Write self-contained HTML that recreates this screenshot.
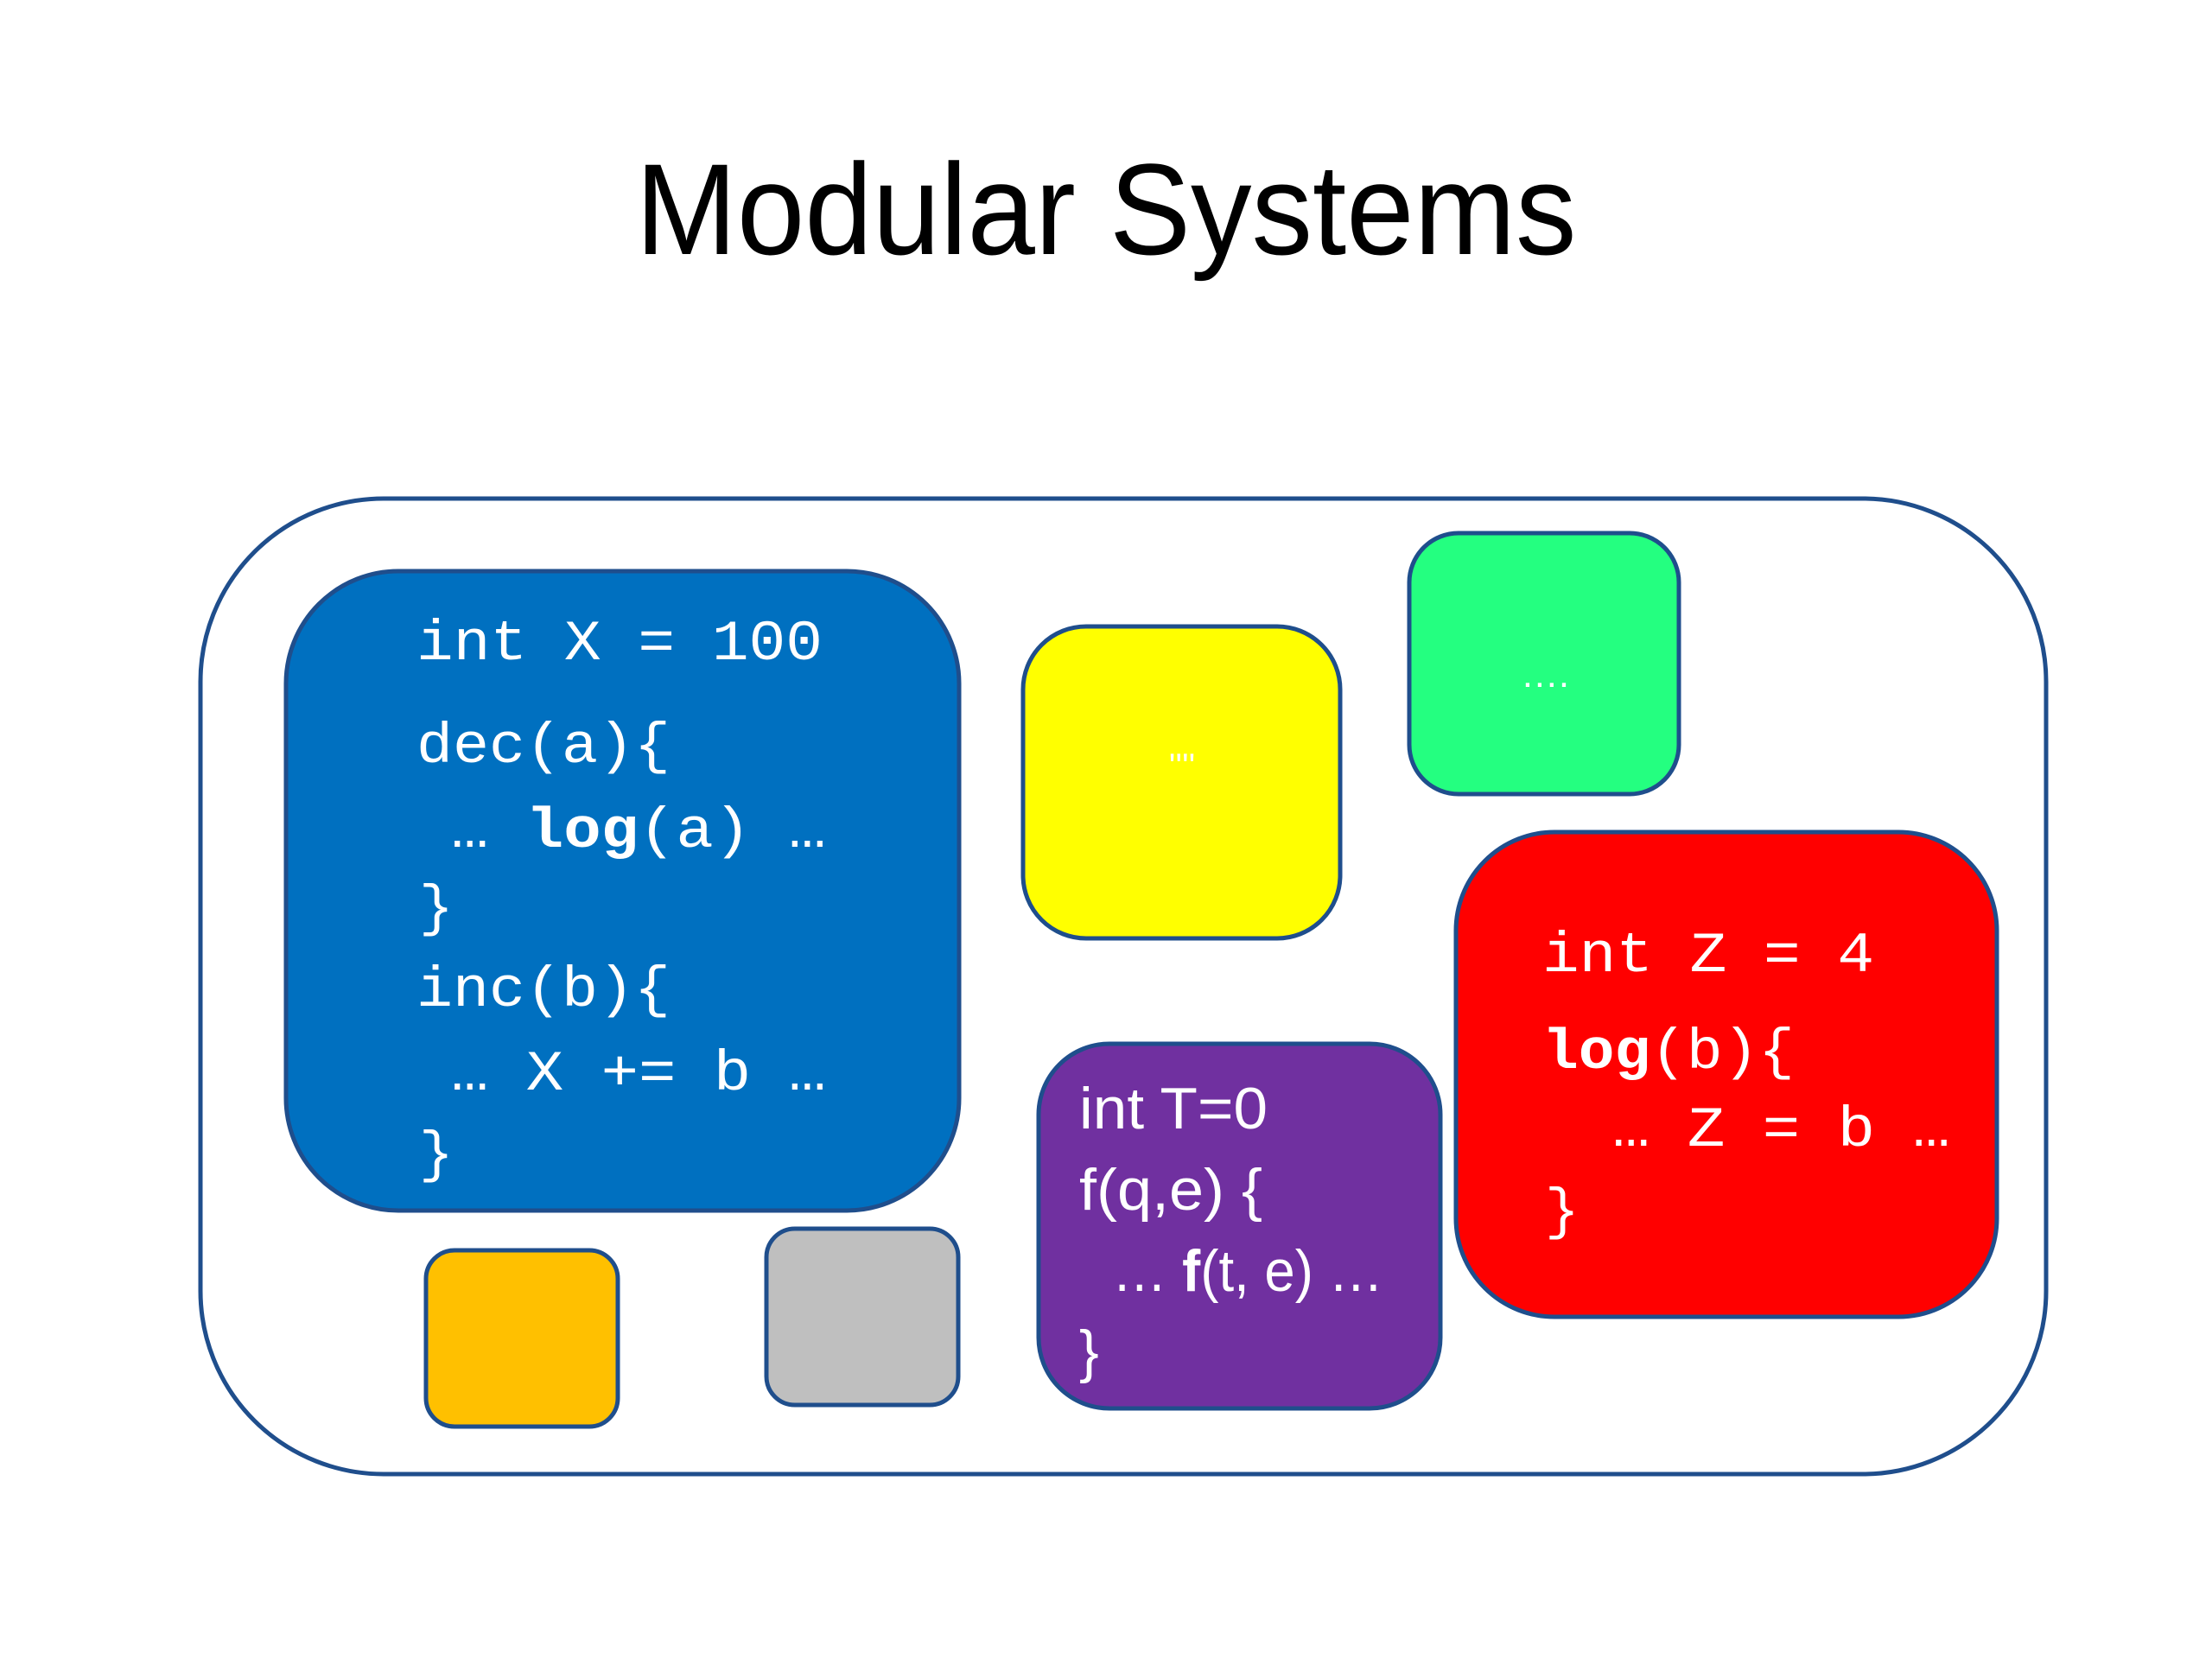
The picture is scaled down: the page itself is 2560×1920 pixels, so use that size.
<!DOCTYPE html>
<html><head><meta charset="utf-8"><style>html,body{margin:0;padding:0;background:#fff}svg{display:block}</style></head>
<body>
<svg width="2560" height="1920" viewBox="0 0 2560 1920" xmlns="http://www.w3.org/2000/svg">
<rect width="2560" height="1920" fill="#fff"/>
<text x="1280" y="294" text-anchor="middle" font-family="Liberation Sans, sans-serif" font-size="150" fill="#000" textLength="1089" lengthAdjust="spacingAndGlyphs">Modular Systems</text>
<rect x="232" y="577" width="2136" height="1129" rx="212" ry="212" fill="#fff" stroke="#1F4E8C" stroke-width="5"/>
<g stroke="#1F4E8C" stroke-width="5">
<rect x="331" y="661" width="779" height="740" rx="130" fill="#0070C0"/>
<rect x="1184" y="725" width="367" height="361" rx="73" fill="#FFFF00"/>
<rect x="1631" y="617" width="312" height="302" rx="57" fill="#24FF80"/>
<rect x="1685" y="963" width="626" height="561" rx="114" fill="#FF0000"/>
<rect x="1202" y="1208" width="465" height="422" rx="82" fill="#7030A0"/>
<rect x="493" y="1447" width="222" height="204" rx="33" fill="#FFC000"/>
<rect x="887" y="1422" width="222" height="204" rx="33" fill="#BFBFBF"/>
</g>
<g fill="#fff" font-family="Liberation Mono, DejaVu Sans Mono, monospace" font-size="66" xml:space="preserve">
<text x="482" y="763" textLength="470" lengthAdjust="spacingAndGlyphs">int X = 100</text>
<text x="482" y="882" textLength="294" lengthAdjust="spacingAndGlyphs">dec(a){</text>
<text x="522" y="980" textLength="434" lengthAdjust="spacingAndGlyphs">… <tspan font-weight="bold">log</tspan>(a) …</text>
<text x="485" y="1070">}</text>
<text x="482" y="1164" textLength="294" lengthAdjust="spacingAndGlyphs">inc(b){</text>
<text x="522" y="1261" textLength="434" lengthAdjust="spacingAndGlyphs">… X += b …</text>
<text x="485" y="1355">}</text>
<text x="1785" y="1124" textLength="384" lengthAdjust="spacingAndGlyphs">int Z = 4</text>
<text x="1785" y="1236" textLength="292" lengthAdjust="spacingAndGlyphs"><tspan font-weight="bold">log</tspan>(b){</text>
<text x="1866" y="1326" textLength="391" lengthAdjust="spacingAndGlyphs">… Z = b …</text>
<text x="1788" y="1421">}</text>
</g>
<g fill="#fff" font-family="Liberation Sans, sans-serif" font-size="68">
<text x="1249" y="1306" textLength="218" lengthAdjust="spacingAndGlyphs">int T=0</text>
<text x="1249" y="1400" textLength="212" lengthAdjust="spacingAndGlyphs">f(q,e) {</text>
<text x="1287" y="1494" textLength="314" lengthAdjust="spacingAndGlyphs">… <tspan font-weight="bold">f</tspan>(t, e) …</text>
<text x="1249" y="1587">}</text>
<text x="1368" y="900" text-anchor="middle" font-size="40">''''</text>
<text x="1788" y="795" text-anchor="middle" font-size="44">….</text>
</g>
</svg>
</body></html>
